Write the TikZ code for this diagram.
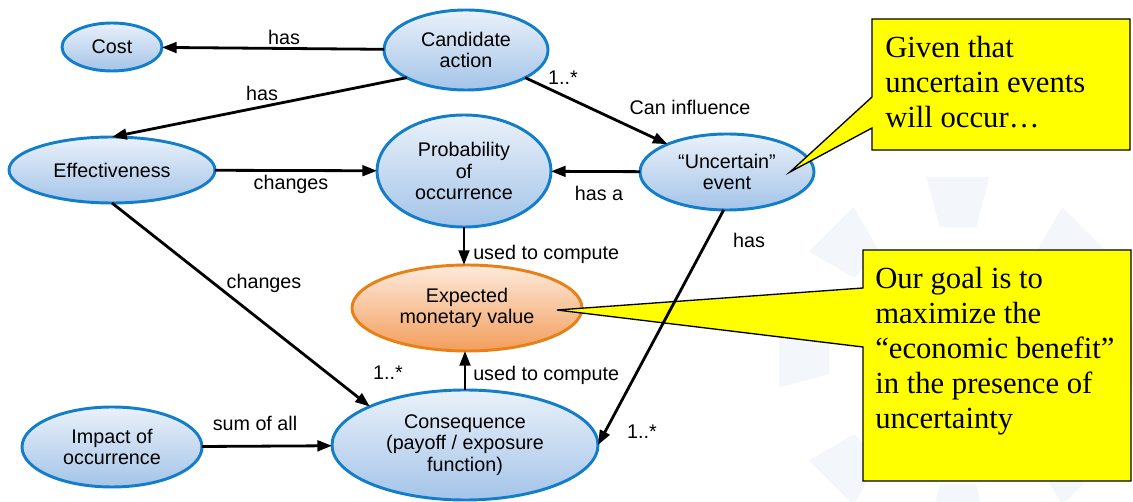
\documentclass[tikz,border=0pt]{standalone}
\usepackage{fontspec}
\setmainfont{Liberation Sans}
\newfontfamily\calloutfont{Liberation Serif}
\usetikzlibrary{arrows.meta,shapes.geometric}

\definecolor{ellblue}{RGB}{18,126,201}
\definecolor{elltop}{RGB}{234,241,250}
\definecolor{ellbot}{RGB}{164,196,232}
\definecolor{orgline}{RGB}{232,128,22}
\definecolor{orgtop}{RGB}{253,234,220}
\definecolor{orgbot}{RGB}{242,158,92}
\definecolor{wmark}{RGB}{243,246,250}
\definecolor{callyellow}{RGB}{255,255,0}

\begin{document}
\begin{tikzpicture}[x=0.75pt,y=-0.75pt,
  concept/.style={ellipse, draw=ellblue, line width=2.2pt, top color=elltop, bottom color=ellbot,
    inner sep=0pt, outer sep=0pt, align=center, font=\fontsize{14.8}{16}\selectfont},
  goal/.style={concept, draw=orgline, top color=orgtop, bottom color=orgbot},
  conn/.style={line width=2.1pt, -{Triangle[length=11pt,width=8pt]}},
  lbl/.style={inner sep=0pt, font=\fontsize{14.8}{16}\selectfont},
  callout/.style={fill=callyellow, draw=black, line width=1pt, line join=miter},
  callouttext/.style={inner sep=0pt, align=left, font=\calloutfont\fontsize{23}{26.25}\selectfont}
]
\useasboundingbox (0,0) rectangle (1133,502);

% faint watermark
\begin{scope}[shift={(958,356)}]
  \foreach \a in {0,45,...,315}{
    \fill[wmark] (\a-10:182) -- (\a+10:182) -- (\a+8:130) -- (\a-8:130) -- cycle;
  }
\end{scope}

% concepts
\node[concept, minimum width=75pt, minimum height=36pt] (cost) at (112,47) {Cost};
\node[concept, minimum width=123pt, minimum height=60pt] (cand) at (466,50) {Candidate\\action};
\node[concept, minimum width=154.5pt, minimum height=49.5pt] (eff) at (112,170) {Effectiveness};
\node[concept, minimum width=130.5pt, minimum height=84pt] (prob) at (464,171) {Probability\\of\\occurrence};
\node[concept, minimum width=130.5pt, minimum height=57pt] (unc) at (727,172) {“Uncertain”\\event};
\node[goal, minimum width=172.5pt, minimum height=64.5pt] (emv) at (467,308) {Expected\\monetary value};
\node[concept, minimum width=135pt, minimum height=60pt] (imp) at (112,447) {Impact of\\occurrence};
\node[concept, minimum width=199.5pt, minimum height=82.5pt] (cons) at (465,445) {Consequence\\(payoff / exposure\\function)};

% callouts
\coordinate (tip1) at (790,172);
\coordinate (tip2) at (557,310);
\draw[callout] (872,19) -- (1130,19) -- (1130,150) -- (872,150) -- (872,128) -- (tip1) -- (872,97) -- cycle;
\node[callouttext, anchor=north west] (c1) at (885,36) {Given that\\uncertain events\\will occur…};
\draw[callout] (863,250) -- (1131,250) -- (1131,481) -- (863,481) -- (863,347) -- (tip2) -- (863,288) -- cycle;
\node[callouttext, anchor=north west] (c2) at (875,267) {Our goal is to\\maximize the\\“economic benefit”\\in the presence of\\uncertainty};

% connectors
\draw[conn] (cand) -- (cost);
\draw[conn] (cand.205) -- (eff.north);
\draw[conn] (cand) -- (unc);
\draw[conn] (eff) -- (prob);
\draw[conn] (unc) -- (prob);
\draw[conn] (prob.south) -- (prob.south |- emv.north);
\draw[conn] (cons.north) -- (cons.north |- emv.south);
\draw[conn] (eff.south) -- (cons.158);
\draw[conn] (imp) -- (cons);
\draw[conn] (unc.265) -- (cons.east);

% labels
\node[lbl] (l1) at (284,37) {has};
\node[lbl] (l2) at (262,93) {has};
\node[lbl] (l3) at (563,78) {1..*};
\node[lbl] (l4) at (690,107) {Can influence};
\node[lbl] (l5) at (291,184) {changes};
\node[lbl] (l6) at (599,193) {has a};
\node[lbl, anchor=west] (l7) at (473,254) {used to compute};
\node[lbl] (l8) at (749,240) {has};
\node[lbl] (l9) at (264,283) {changes};
\node[lbl] (l10) at (388,373) {1..*};
\node[lbl, anchor=west] (l11) at (473,375) {used to compute};
\node[lbl] (l12) at (255,423) {sum of all};
\node[lbl] (l13) at (642,432) {1..*};
\end{tikzpicture}
\end{document}
